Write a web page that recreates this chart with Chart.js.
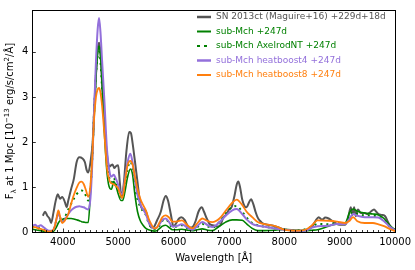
<!DOCTYPE html>
<html>
<head>
<meta charset="utf-8">
<script src="https://cdn.jsdelivr.net/npm/chart.js@4/dist/chart.umd.min.js"></script>
<style>
html,body{margin:0;padding:0;background:#fff;}
canvas{display:block;}
</style>
</head>
<body>
<canvas id="c" width="415" height="270"></canvas>
<script>
// ---------------- data ----------------
const xTickValues = [4000, 5000, 6000, 7000, 8000, 9000, 10000];
const yTickValues = [0, 1, 2, 3, 4];

const seriesLabels = [
  'SN 2013ct (Maguire+16) +229d+18d',
  'sub-Mch +247d',
  'sub-Mch AxelrodNT +247d',
  'sub-Mch heatboost4 +247d',
  'sub-Mch heatboost8 +247d'
];

const wavelengthSN = [
  3640, 3680, 3720, 3760, 3790, 3830, 3870, 3910, 3950, 3990,
  4040, 4070, 4100, 4150, 4200, 4250, 4300, 4350, 4400, 4430,
  4460, 4500, 4540, 4570, 4600, 4630, 4655, 4680, 4710, 4750,
  4800, 4840, 4870, 4900, 4930, 4960, 5000, 5030, 5060, 5100,
  5150, 5200, 5230, 5260, 5300, 5350, 5400, 5450, 5500, 5550,
  5600, 5650, 5700, 5770, 5820, 5860, 5900, 5950, 6000, 6050,
  6100, 6140, 6200, 6250, 6300, 6350, 6400, 6450, 6510, 6550,
  6600, 6650, 6700, 6750, 6800, 6850, 6900, 6950, 7000, 7050,
  7100, 7140, 7170, 7200, 7240, 7280, 7320, 7360, 7400, 7440,
  7480, 7520, 7560, 7600, 7700, 7800, 7900, 8000, 8100, 8200,
  8300, 8400, 8450, 8500, 8570, 8620, 8680, 8740, 8800, 8850,
  8920, 9000, 9100, 9150, 9200, 9230, 9260, 9290, 9330, 9380,
  9450, 9500, 9560, 9620, 9660, 9700, 9760, 9820, 9880, 9930,
  9970, 10000
];
const fluxSN = [
  0.36, 0.45, 0.36, 0.30, 0.20, 0.42, 0.68, 0.84, 0.74, 0.78,
  0.66, 0.55, 0.70, 0.95, 1.18, 1.55, 1.66, 1.64, 1.55, 1.38,
  1.32, 1.55, 2.00, 2.80, 3.50, 4.05, 4.20, 4.00, 3.30, 2.40,
  1.70, 1.45, 1.48, 1.50, 1.42, 1.46, 1.48, 1.10, 0.76, 1.05,
  1.80, 2.22, 2.20, 1.98, 1.60, 1.10, 0.62, 0.50, 0.46, 0.25,
  0.10, 0.12, 0.25, 0.45, 0.70, 0.80, 0.70, 0.40, 0.12, 0.20,
  0.30, 0.33, 0.27, 0.15, 0.10, 0.12, 0.25, 0.45, 0.55, 0.45,
  0.30, 0.18, 0.15, 0.14, 0.12, 0.16, 0.33, 0.38, 0.50, 0.56,
  0.80, 1.05, 1.12, 1.00, 0.72, 0.58, 0.55, 0.65, 0.73, 0.62,
  0.45, 0.32, 0.25, 0.20, 0.16, 0.14, 0.10, 0.05, 0.04, 0.03,
  0.03, 0.05, 0.07, 0.12, 0.26, 0.33, 0.27, 0.32, 0.30, 0.26,
  0.20, 0.16, 0.16, 0.30, 0.55, 0.38, 0.55, 0.35, 0.50, 0.42,
  0.42, 0.40, 0.45, 0.50, 0.45, 0.40, 0.38, 0.35, 0.20, 0.10,
  0.06, 0.05
];

const wavelengthModel = [
  3450, 3500, 3550, 3600, 3650, 3700, 3750, 3800, 3850, 3890,
  3920, 3950, 3990, 4030, 4100, 4150, 4200, 4250, 4300, 4340,
  4380, 4420, 4460, 4500, 4530, 4560, 4600, 4630, 4655, 4680,
  4710, 4750, 4800, 4850, 4880, 4920, 4960, 5000, 5050, 5080,
  5120, 5170, 5220, 5260, 5300, 5350, 5400, 5450, 5500, 5550,
  5600, 5650, 5700, 5750, 5800, 5860, 5920, 5980, 6050, 6150,
  6250, 6340, 6420, 6520, 6620, 6700, 6830, 6940, 7060, 7140,
  7240, 7320, 7420, 7520, 7620, 7840, 8000, 8200, 8380, 8500,
  8600, 8800, 8950, 9100, 9180, 9240, 9320, 9450, 9600, 9700,
  9800, 9900, 10000
];
const fluxSubMch = [
  0.06, 0.05, 0.04, 0.03, 0.02, 0.01, 0.00, 0.00, 0.04, 0.12,
  0.20, 0.25, 0.28, 0.30, 0.30, 0.30, 0.29, 0.27, 0.25, 0.23,
  0.22, 0.21, 0.21, 0.90, 1.55, 2.35, 3.45, 3.98, 4.13, 3.95,
  3.35, 2.25, 1.30, 0.97, 0.95, 1.12, 1.02, 0.85, 0.70, 0.70,
  0.88, 1.22, 1.40, 1.28, 0.85, 0.45, 0.25, 0.15, 0.08, 0.05,
  0.03, 0.02, 0.03, 0.08, 0.13, 0.15, 0.10, 0.05, 0.05, 0.06,
  0.04, 0.03, 0.05, 0.07, 0.04, 0.03, 0.13, 0.22, 0.27, 0.27,
  0.26, 0.18, 0.08, 0.03, 0.03, 0.04, 0.06, 0.04, 0.03, 0.04,
  0.05, 0.13, 0.18, 0.20, 0.44, 0.51, 0.46, 0.42, 0.40, 0.38,
  0.30, 0.15, 0.05
];
const fluxAxelrodNT = [
  0.10, 0.11, 0.08, 0.09, 0.06, 0.03, 0.02, 0.02, 0.09, 0.30,
  0.45, 0.32, 0.22, 0.30, 0.50, 0.62, 0.74, 0.84, 0.90, 0.92,
  0.90, 0.80, 0.70, 0.95, 1.55, 2.50, 3.50, 3.90, 4.00, 3.80,
  3.20, 2.45, 1.55, 1.15, 1.10, 1.20, 1.08, 0.95, 0.78, 0.76,
  1.02, 1.40, 1.56, 1.42, 1.05, 0.72, 0.56, 0.46, 0.38, 0.20,
  0.10, 0.06, 0.08, 0.15, 0.25, 0.28, 0.20, 0.10, 0.12, 0.15,
  0.08, 0.05, 0.10, 0.18, 0.12, 0.10, 0.22, 0.42, 0.55, 0.58,
  0.45, 0.32, 0.20, 0.15, 0.12, 0.08, 0.05, 0.04, 0.06, 0.12,
  0.18, 0.17, 0.20, 0.20, 0.38, 0.44, 0.40, 0.37, 0.36, 0.34,
  0.26, 0.12, 0.04
];
const fluxHeatboost4 = [
  0.14, 0.16, 0.12, 0.15, 0.11, 0.06, 0.03, 0.03, 0.10, 0.30,
  0.42, 0.33, 0.22, 0.26, 0.40, 0.48, 0.53, 0.56, 0.57, 0.56,
  0.55, 0.52, 0.50, 0.75, 1.45, 2.50, 3.80, 4.50, 4.75, 4.45,
  3.80, 2.95, 1.80, 1.30, 1.23, 1.27, 1.18, 1.05, 0.84, 0.86,
  1.15, 1.55, 1.74, 1.55, 1.20, 0.82, 0.62, 0.50, 0.40, 0.22,
  0.12, 0.08, 0.10, 0.18, 0.27, 0.30, 0.22, 0.12, 0.13, 0.17,
  0.10, 0.05, 0.12, 0.22, 0.15, 0.11, 0.22, 0.36, 0.48, 0.51,
  0.40, 0.28, 0.18, 0.14, 0.12, 0.08, 0.05, 0.03, 0.03, 0.10,
  0.13, 0.14, 0.18, 0.18, 0.30, 0.40, 0.36, 0.33, 0.33, 0.32,
  0.24, 0.12, 0.04
];
const fluxHeatboost8 = [
  0.10, 0.11, 0.08, 0.07, 0.05, 0.02, 0.01, 0.02, 0.10, 0.32,
  0.48, 0.35, 0.20, 0.24, 0.40, 0.62, 0.82, 0.98, 1.10, 1.12,
  1.06, 0.92, 0.78, 1.05, 1.60, 2.40, 3.00, 3.17, 3.20, 3.10,
  2.80, 2.20, 1.40, 1.12, 1.08, 1.06, 1.02, 0.97, 0.80, 0.76,
  1.10, 1.48, 1.58, 1.50, 1.25, 0.95, 0.74, 0.60, 0.48, 0.30,
  0.17, 0.08, 0.10, 0.22, 0.33, 0.37, 0.32, 0.23, 0.23, 0.26,
  0.15, 0.08, 0.18, 0.30, 0.24, 0.22, 0.30, 0.47, 0.65, 0.72,
  0.60, 0.45, 0.33, 0.22, 0.18, 0.13, 0.05, 0.03, 0.05, 0.15,
  0.26, 0.25, 0.23, 0.20, 0.25, 0.33, 0.24, 0.20, 0.20, 0.17,
  0.13, 0.07, 0.02
];

const colors = ['#555555', '#008000', '#008000', '#9370db', '#ff7f0e'];

// ---------------- helpers ----------------
function pts(xs, ys) { return xs.map((x, i) => ({ x: x, y: ys[i] })); }

const FONT = "'DejaVu Sans', sans-serif";

const decorPlugin = {
  id: 'decor',
  afterDraw(chart) {
    const ctx = chart.ctx;
    const a = chart.chartArea;
    const xs = chart.scales.x, ys = chart.scales.y;
    ctx.save();
    // inward ticks
    ctx.strokeStyle = '#000';
    ctx.lineWidth = 0.8;
    ctx.beginPath();
    for (let v = 3500; v <= 10000; v += 100) {
      const px = Math.round(xs.getPixelForValue(v)) + 0.5;
      const major = xTickValues.includes(v);
      const len = major ? 3.5 : 2;
      ctx.moveTo(px, a.bottom);
      ctx.lineTo(px, a.bottom - len);
    }
    yTickValues.forEach(v => {
      const py = Math.round(ys.getPixelForValue(v)) + 0.5;
      ctx.moveTo(a.left, py);
      ctx.lineTo(a.left + 3.5, py);
    });
    ctx.stroke();
    // frame
    ctx.lineWidth = 1;
    ctx.strokeStyle = '#000';
    ctx.strokeRect(Math.round(a.left) + 0.5, Math.round(a.top) + 0.5,
                   Math.round(a.right) - Math.round(a.left), Math.round(a.bottom) - Math.round(a.top));

    // legend
    const lx0 = 197, lx1 = 211, tx = 216;
    const rowY = [17, 31.5, 46, 60.5, 75];
    ctx.font = '9px ' + FONT;
    ctx.textBaseline = 'middle';
    ctx.textAlign = 'left';
    seriesLabels.forEach((lab, i) => {
      const y = rowY[i];
      ctx.beginPath();
      ctx.strokeStyle = colors[i];
      ctx.lineWidth = (i === 0 || i === 3) ? 2.5 : 2;
      ctx.setLineDash(i === 2 ? [3, 4] : []);
      ctx.moveTo(lx0, y);
      ctx.lineTo(lx1, y);
      ctx.stroke();
      ctx.setLineDash([]);
      ctx.fillStyle = colors[i];
      ctx.fillText(lab, tx, y);
    });

    // y axis title with sub/superscripts
    const parts = [
      { t: 'F', s: 10, dy: 0 },
      { t: '\u03bb', s: 7, dy: 2.5 },
      { t: ' at 1 Mpc [10', s: 10, dy: 0 },
      { t: '\u221213', s: 7, dy: -4 },
      { t: ' erg/s/cm', s: 10, dy: 0 },
      { t: '2', s: 7, dy: -4 },
      { t: '/\u00c5]', s: 10, dy: 0 }
    ];
    let total = 0;
    parts.forEach(p => { ctx.font = p.s + 'px ' + FONT; p.w = ctx.measureText(p.t).width; total += p.w; });
    ctx.translate(13, (a.top + a.bottom) / 2);
    ctx.rotate(-Math.PI / 2);
    ctx.fillStyle = '#000';
    ctx.textBaseline = 'alphabetic';
    let cx = -total / 2;
    parts.forEach(p => {
      ctx.font = p.s + 'px ' + FONT;
      ctx.fillText(p.t, cx, p.dy);
      cx += p.w;
    });
    ctx.restore();
  }
};

const datasetsCfg = [
  { label: seriesLabels[0], data: pts(wavelengthSN, fluxSN), borderColor: colors[0], borderWidth: 2, order: 5 },
  { label: seriesLabels[1], data: pts(wavelengthModel, fluxSubMch), borderColor: colors[1], borderWidth: 1.6, order: 4 },
  { label: seriesLabels[2], data: pts(wavelengthModel, fluxAxelrodNT), borderColor: colors[2], borderWidth: 2, borderDash: [2, 4], order: 3 },
  { label: seriesLabels[3], data: pts(wavelengthModel, fluxHeatboost4), borderColor: colors[3], borderWidth: 2, order: 2 },
  { label: seriesLabels[4], data: pts(wavelengthModel, fluxHeatboost8), borderColor: colors[4], borderWidth: 1.8, order: 1 }
].map(d => Object.assign({
  fill: false, pointRadius: 0, pointHoverRadius: 0, cubicInterpolationMode: 'monotone', tension: 0.4
}, d));

new Chart(document.getElementById('c'), {
  type: 'line',
  data: { datasets: datasetsCfg },
  options: {
    responsive: false,
    animation: false,
    devicePixelRatio: 1,
    layout: { padding: { left: 0, right: 18, top: 2.5, bottom: 0 } },
    plugins: { legend: { display: false }, tooltip: { enabled: false } },
    scales: {
      x: {
        type: 'linear', min: 3450, max: 10000,
        afterBuildTicks: s => { s.ticks = xTickValues.map(v => ({ value: v })); },
        afterFit: s => { s.height = 38; },
        grid: { display: false, drawTicks: false },
        border: { display: false },
        ticks: { color: '#000', font: { family: FONT, size: 10 }, padding: 4, maxRotation: 0, autoSkip: false, callback: v => String(v) },
        title: { display: true, text: 'Wavelength [\u00c5]', color: '#000', font: { family: FONT, size: 10 }, padding: { top: 0, bottom: 6 } }
      },
      y: {
        type: 'linear', min: 0, max: 4.93,
        afterBuildTicks: s => { s.ticks = yTickValues.map(v => ({ value: v })); },
        afterFit: s => { s.width = 32.3; },
        grid: { display: false, drawTicks: false },
        border: { display: false },
        ticks: { color: '#000', font: { family: FONT, size: 10 }, padding: 4, callback: v => String(v) }
      }
    }
  },
  plugins: [decorPlugin]
});
</script>
</body>
</html>
